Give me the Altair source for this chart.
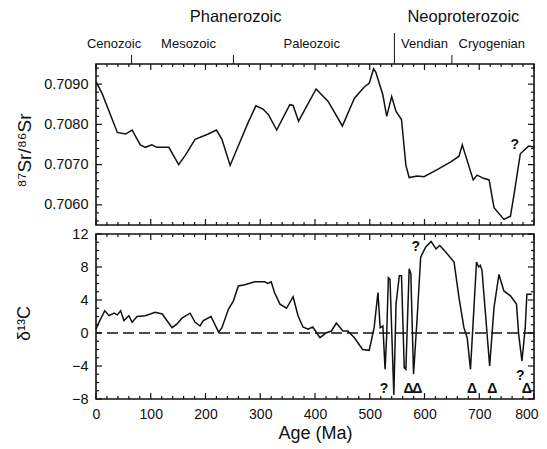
import altair as alt
import pandas as pd

# ---- data ----
sr_age = [0, 11, 24, 39, 54, 66, 72, 81, 90, 102, 111, 133, 151, 163, 181, 205, 220, 230, 245, 260,
          278, 292, 305, 315, 330, 354, 360, 370, 402, 424, 450, 472, 490, 499, 507, 511, 524, 531,
          540, 548, 558, 566, 572, 587, 599, 624, 648, 663, 669, 675, 689, 696, 708, 718, 727, 745,
          757, 763, 775, 790, 800]
sr_val = [0.70906, 0.70877, 0.70832, 0.70780, 0.70776, 0.70786, 0.70771, 0.70749, 0.70743, 0.70749,
          0.70743, 0.70743, 0.70700, 0.70723, 0.70763, 0.70776, 0.70786, 0.70763, 0.70698, 0.70747,
          0.70805, 0.70846, 0.70838, 0.70824, 0.70786, 0.70849, 0.70847, 0.70808, 0.70888, 0.70857,
          0.70796, 0.70865, 0.70893, 0.70902, 0.70938, 0.70930, 0.70873, 0.70820, 0.70869, 0.70832,
          0.70812, 0.70698, 0.70668, 0.70672, 0.70670, 0.70688, 0.70707, 0.70721, 0.70749, 0.70723,
          0.70662, 0.70674, 0.70666, 0.70662, 0.70593, 0.70564, 0.70572, 0.70621, 0.70727, 0.70746,
          0.70744]

c_age = [0, 4, 16, 24, 33, 39, 45, 51, 60, 66, 75, 90, 108, 121, 139, 148, 157, 172, 181, 190, 196,
         210, 224, 230, 242, 251, 260, 272, 290, 308, 314, 320, 326, 336, 348, 360, 369, 378, 387,
         396, 409, 421, 430, 439, 451, 460, 472, 487, 499, 508, 515, 519, 524, 528, 531, 534, 537,
         544, 548, 554, 558, 563, 566, 572, 575, 580, 587, 593, 602, 612, 621, 628, 639, 654, 663,
         672, 678, 684, 695, 699, 702, 705, 719, 727, 736, 745, 757, 768, 772, 778, 784, 787, 796]
c_val = [0.45, 1.1, 2.7, 2.1, 2.4, 2.2, 2.7, 1.5, 2.1, 1.3, 2.0, 2.1, 2.5, 2.3, 0.65, 1.1, 1.8, 2.4,
         1.3, 0.85, 1.5, 2.0, 0.1, 0.65, 2.9, 3.9, 5.7, 5.85, 6.2, 6.2, 6.0, 6.2, 4.9, 3.5, 3.0, 4.4,
         2.1, 0.73, 0.45, 0.73, -0.57, 0.04, 0.24, 1.2, 0.24, 0.24, -0.57, -2.0, -2.1, 0.65, 4.9,
         0.65, 0.85, -4.4, -0.16, 6.7, 6.5, -7.5, 3.5, 6.95, 6.95, -4.2, -4.4, 7.8, 7.2, -5.0, 2.3,
         9.2, 10.4, 11.1, 10.2, 10.6, 9.8, 8.6, 4.3, 0.65, -0.57, -4.4, 8.6, 8.0, 8.2, 7.6, -4.0,
         3.1, 7.1, 5.1, 4.5, 3.5, -0.16, -3.4, 0.65, 4.7, 4.7]

era_names = ["Cenozoic", "Mesozoic", "Paleozoic", "Vendian", "Cryogenian"]
era_age = [33, 169, 394, 600, 723]
eon_names = ["Phanerozoic", "Neoproterozoic"]
eon_age = [255, 671]
era_bounds = [65, 251, 650]
eon_bounds = [545]

sr_note_age = [765]
sr_note_val = [0.70748]
sr_note_txt = ["?"]

c_note_age = [526, 584, 775, 571, 587, 687, 724, 787]
c_note_val = [-6.8, 10.4, -5.2, -6.8, -6.8, -6.8, -6.8, -6.8]
c_note_txt = ["?", "?", "?", "\u0394", "\u0394", "\u0394", "\u0394", "\u0394"]

zero_line = [0]

x_major = [0, 100, 200, 300, 400, 500, 600, 700, 800]
x_minor = [v for v in range(0, 801, 20) if v % 100]
sr_major = [0.7060, 0.7070, 0.7080, 0.7090]
sr_minor = [0.7056, 0.7058, 0.7062, 0.7064, 0.7066, 0.7068, 0.7072, 0.7074, 0.7076, 0.7078,
            0.7082, 0.7084, 0.7086, 0.7088, 0.7092, 0.7094]
c_major = [-8, -4, 0, 4, 8, 12]
c_minor = [v for v in range(-8, 13) if v % 4]

# ---- layout ----
W = 438
H1 = 161
H2 = 165
FONT = "Liberation Sans"
INK = "#111111"

xscale = alt.Scale(domain=[0, 800], nice=False, zero=False)
sr_scale = alt.Scale(domain=[0.7055, 0.7095], nice=False, zero=False)
c_scale = alt.Scale(domain=[-8, 12], nice=False, zero=False)

sr_axis = alt.Axis(values=sr_major, format=".4f", ticks=False, domain=False, grid=False,
                   labelPadding=8, labelFontSize=14.5, labelColor=INK,
                   title="\u2078\u2077Sr/\u2078\u2076Sr", titleFontSize=19, titleFontWeight="normal",
                   titleColor=INK, titleX=-62, titleY=86)
c_axis = alt.Axis(values=c_major, format="d", ticks=False, domain=False, grid=False,
                  labelPadding=8, labelFontSize=14.5, labelColor=INK,
                  title="\u03b4\u00b9\u00b3C", titleFontSize=18, titleFontWeight="normal",
                  titleColor=INK, titleX=-63, titleY=89)
x_axis_bottom = alt.Axis(values=x_major, format="d", ticks=False, domain=False, grid=False,
                         labelFlush=True, labelFlushOffset=4,
                         labelPadding=8, labelFontSize=14, labelColor=INK,
                         title="Age (Ma)", titleFontSize=18, titleFontWeight="normal",
                         titleColor=INK, titlePadding=3)


def tick_layers(ymaj, ymin, yscale, yaxis, xaxis, h):
    layers = []
    for vals, ln in ((x_major, 6), (x_minor, 3)):
        d = pd.DataFrame({"age": vals})
        base = alt.Chart(d).mark_rule(color=INK, strokeWidth=1.2)
        layers.append(base.encode(x=alt.X("age:Q", scale=xscale, axis=xaxis),
                                  y=alt.value(h), y2=alt.value(h - ln)))
        layers.append(base.encode(x=alt.X("age:Q", scale=xscale, axis=xaxis),
                                  y=alt.value(0), y2=alt.value(ln)))
    for vals, ln in ((ymaj, 6), (ymin, 3)):
        d = pd.DataFrame({"val": vals})
        base = alt.Chart(d).mark_rule(color=INK, strokeWidth=1.2)
        layers.append(base.encode(y=alt.Y("val:Q", scale=yscale, axis=yaxis),
                                  x=alt.value(0), x2=alt.value(ln)))
        layers.append(base.encode(y=alt.Y("val:Q", scale=yscale, axis=yaxis),
                                  x=alt.value(W), x2=alt.value(W - ln)))
    return layers


# ---- top panel: Sr ----
sr_df = pd.DataFrame({"age": sr_age, "val": sr_val})
sr_line = alt.Chart(sr_df).mark_line(color=INK, strokeWidth=1.5).encode(
    x=alt.X("age:Q", scale=xscale, axis=None),
    y=alt.Y("val:Q", scale=sr_scale, axis=sr_axis),
)
sr_notes = alt.Chart(pd.DataFrame({"age": sr_note_age, "val": sr_note_val, "t": sr_note_txt})).mark_text(
    font=FONT, fontSize=14, fontWeight="bold", color=INK
).encode(x=alt.X("age:Q", scale=xscale, axis=None),
         y=alt.Y("val:Q", scale=sr_scale, axis=sr_axis), text="t:N")

era_text = alt.Chart(pd.DataFrame({"age": era_age, "t": era_names})).mark_text(
    font=FONT, fontSize=13, color=INK, baseline="middle"
).encode(x=alt.X("age:Q", scale=xscale, axis=None), y=alt.value(-20), text="t:N")
eon_text = alt.Chart(pd.DataFrame({"age": eon_age, "t": eon_names})).mark_text(
    font=FONT, fontSize=16.5, color=INK, baseline="middle"
).encode(x=alt.X("age:Q", scale=xscale, axis=None), y=alt.value(-47), text="t:N")
era_ticks = alt.Chart(pd.DataFrame({"age": era_bounds})).mark_rule(color=INK, strokeWidth=1).encode(
    x=alt.X("age:Q", scale=xscale, axis=None), y=alt.value(-9), y2=alt.value(0))
eon_ticks = alt.Chart(pd.DataFrame({"age": eon_bounds})).mark_rule(color=INK, strokeWidth=1).encode(
    x=alt.X("age:Q", scale=xscale, axis=None), y=alt.value(-31), y2=alt.value(0))

top = alt.layer(
    sr_line, sr_notes, era_text, eon_text, era_ticks, eon_ticks,
    *tick_layers(sr_major, sr_minor, sr_scale, sr_axis, None, H1)
).properties(width=W, height=H1)

# ---- bottom panel: d13C ----
c_df = pd.DataFrame({"age": c_age, "val": c_val})
zero = alt.Chart(pd.DataFrame({"val": zero_line})).mark_rule(
    color=INK, strokeWidth=1.4, strokeDash=[11, 5]
).encode(y=alt.Y("val:Q", scale=c_scale, axis=c_axis))
c_line = alt.Chart(c_df).mark_line(color=INK, strokeWidth=1.5).encode(
    x=alt.X("age:Q", scale=xscale, axis=x_axis_bottom),
    y=alt.Y("val:Q", scale=c_scale, axis=c_axis),
)
c_notes = alt.Chart(pd.DataFrame({"age": c_note_age, "val": c_note_val, "t": c_note_txt})).mark_text(
    font=FONT, fontSize=14, fontWeight="bold", color=INK
).encode(x=alt.X("age:Q", scale=xscale, axis=x_axis_bottom),
         y=alt.Y("val:Q", scale=c_scale, axis=c_axis), text="t:N")

bottom = alt.layer(
    zero, c_line, c_notes,
    *tick_layers(c_major, c_minor, c_scale, c_axis, x_axis_bottom, H2)
).properties(width=W, height=H2)

chart = alt.vconcat(top, bottom, spacing=-2).properties(
    padding={"left": 6, "top": 0, "right": 0, "bottom": 0}
).configure(font=FONT).configure_view(stroke=INK, strokeWidth=1.6)

chart.save("out.html", embed_options={"renderer": "svg", "actions": False})
